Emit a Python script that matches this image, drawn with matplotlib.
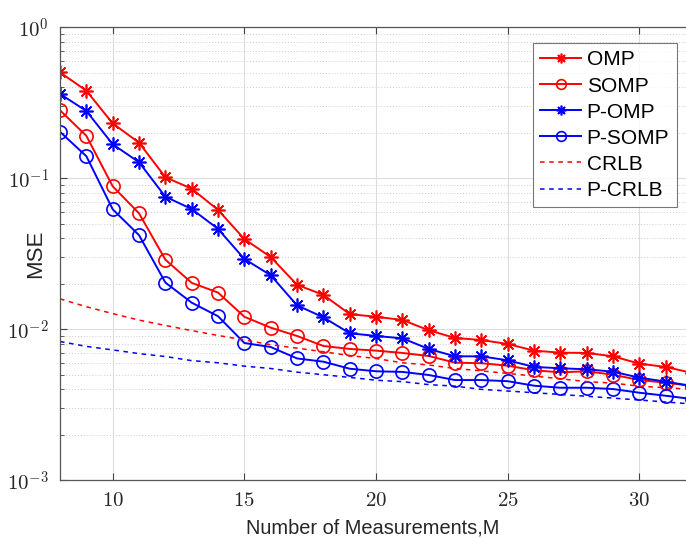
import matplotlib
matplotlib.use("Agg")
import matplotlib.pyplot as plt
from matplotlib.ticker import FixedLocator, FixedFormatter, LogLocator, NullFormatter

plt.rcParams['mathtext.fontset'] = 'cm'
plt.rcParams['font.family'] = ['Liberation Sans', 'DejaVu Sans']

M = [8, 9, 10, 11, 12, 13, 14, 15, 16, 17, 18, 19, 20, 21, 22, 23, 24, 25, 26, 27, 28, 29, 30, 31, 32]
omp = [0.503, 0.380, 0.231, 0.172, 0.1016, 0.0853, 0.0617, 0.0396, 0.0301, 0.0197, 0.0169, 0.0126, 0.0121,
       0.01153, 0.00985, 0.00876, 0.00849, 0.00799, 0.00722, 0.00700, 0.00697, 0.00662, 0.00592, 0.00563, 0.00514]
somp = [0.282, 0.191, 0.0885, 0.0586, 0.0289, 0.0203, 0.0175, 0.0121, 0.01025, 0.00903, 0.00775, 0.00741, 0.00722,
        0.00697, 0.00665, 0.00601, 0.00596, 0.00574, 0.00535, 0.00519, 0.00527, 0.00500, 0.00461, 0.00443, 0.00421]
p_omp = [0.362, 0.279, 0.168, 0.1277, 0.0755, 0.0626, 0.0462, 0.0292, 0.0228, 0.0144, 0.0120, 0.00941, 0.00903,
         0.00871, 0.00741, 0.00662, 0.00662, 0.00623, 0.00563, 0.00552, 0.00543, 0.00524, 0.00478, 0.00450, 0.00421]
p_somp = [0.203, 0.140, 0.0623, 0.0420, 0.0204, 0.0150, 0.0122, 0.00811, 0.00763, 0.00641, 0.00610, 0.00548, 0.00527,
          0.00522, 0.00498, 0.00461, 0.00461, 0.00453, 0.00423, 0.00410, 0.00410, 0.00402, 0.00380, 0.00363, 0.00345]
crlb = [0.0159, 0.0141, 0.0127, 0.0115, 0.0106, 0.0098, 0.0091, 0.0085, 0.0079, 0.0075, 0.0071, 0.0067, 0.0064,
        0.0060, 0.0058, 0.0055, 0.0053, 0.0051, 0.0049, 0.0047, 0.0045, 0.0044, 0.0042, 0.0041, 0.0040]
p_crlb = [0.0083, 0.0077, 0.0073, 0.0069, 0.0066, 0.0062, 0.0060, 0.0057, 0.0055, 0.0052, 0.0050, 0.0048, 0.0046,
          0.0045, 0.0043, 0.0042, 0.0040, 0.0039, 0.0038, 0.0037, 0.0036, 0.0035, 0.0034, 0.0033, 0.0032]

xticks = [10, 15, 20, 25, 30]
xtick_labels = ['$10$', '$15$', '$20$', '$25$', '$30$']
yticks = [1e-3, 1e-2, 1e-1, 1e0]
ytick_labels = ['$10^{-3}$', '$10^{-2}$', '$10^{-1}$', '$10^{0}$']

fig = plt.figure(figsize=(6.86, 5.38), dpi=100)
ax = fig.add_axes([0.0875, 0.1073, 0.9125, 0.842])

lw = 1.4
ast = (8, 2, 0)
ax.plot(M, omp, color='red', marker=ast, markersize=10, lw=lw, label='OMP', mew=1.2)
ax.plot(M, somp, color='red', marker='o', markersize=9.5, mfc='none', mew=1.2, lw=lw, label='SOMP')
ax.plot(M, p_omp, color='blue', marker=ast, markersize=10, lw=lw, label='P-OMP', mew=1.2)
ax.plot(M, p_somp, color='blue', marker='o', markersize=9.5, mfc='none', mew=1.2, lw=lw, label='P-SOMP')
ax.plot(M, crlb, color='red', ls=(0, (3, 3)), lw=1.1, label='CRLB')
ax.plot(M, p_crlb, color='blue', ls=(0, (3, 3)), lw=1.1, label='P-CRLB')

ax.set_yscale('log')
ax.set_xlim(8, 31.77)
ax.set_ylim(1e-3, 1e0)

ax.xaxis.set_major_locator(FixedLocator(xticks))
ax.xaxis.set_major_formatter(FixedFormatter(xtick_labels))
ax.yaxis.set_major_locator(FixedLocator(yticks))
ax.yaxis.set_major_formatter(FixedFormatter(ytick_labels))
ax.yaxis.set_minor_locator(LogLocator(base=10, subs=range(2, 10), numticks=20))
ax.yaxis.set_minor_formatter(NullFormatter())

ax.tick_params(which='both', direction='in', top=True, right=False, colors='#444444', labelcolor='#262626')
ax.tick_params(which='major', length=5, labelsize=15, pad=8)
ax.tick_params(which='minor', length=3)

ax.grid(True, which='major', color='#dddddd', lw=0.8, ls='-')
ax.grid(True, which='minor', axis='y', color='#cccccc', lw=0.7, ls=(0, (1, 2)))
ax.set_axisbelow(True)

for s in ['left', 'bottom', 'top']:
    ax.spines[s].set_color('#555555')
    ax.spines[s].set_linewidth(0.9)
ax.spines['right'].set_visible(False)

ax.set_xlabel('Number of Measurements,M', fontsize=14.4, color='#262626', labelpad=6)
ax.set_ylabel('MSE', fontsize=16, color='#262626')
ax.yaxis.set_label_coords(-0.022, 0.5)

leg = ax.legend(loc='upper right', bbox_to_anchor=(0.985, 0.965), fontsize=15, frameon=True, fancybox=False,
                edgecolor='#555555', handlelength=2.0, handletextpad=0.25, labelspacing=0.34, borderpad=0.35,
                borderaxespad=0)
leg.get_frame().set_linewidth(0.8)
for h in leg.legend_handles:
    h.set_markersize(7)

fig.savefig('out.png', dpi=100)
